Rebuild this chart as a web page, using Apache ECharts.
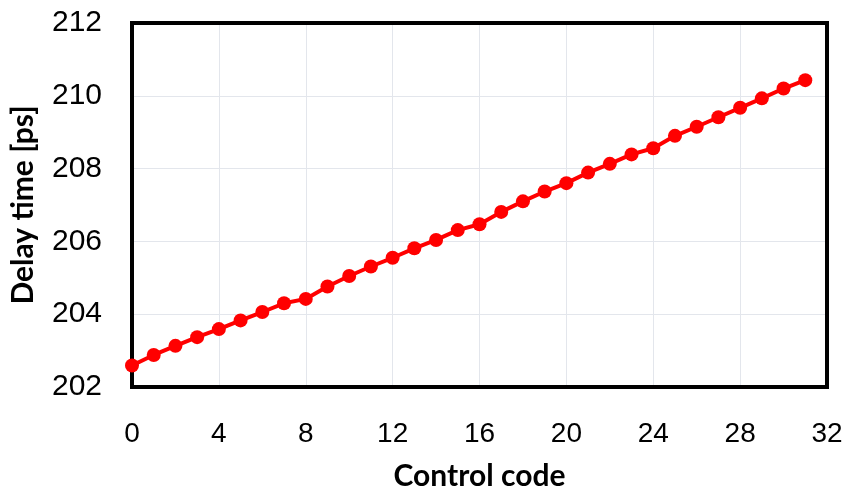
<!DOCTYPE html>
<html>
<head>
<meta charset="utf-8">
<script src="https://cdn.jsdelivr.net/npm/echarts@6/dist/echarts.min.js"></script>
<style>html,body{margin:0;padding:0;background:#fff;}#c{width:846px;height:492px;}</style>
</head>
<body>
<div id="c"></div>
<script>
const controlCodes = [0,1,2,3,4,5,6,7,8,9,10,11,12,13,14,15,16,17,18,19,20,21,22,23,24,25,26,27,28,29,30,31];
const delayPs = [202.59,202.88,203.13,203.37,203.59,203.83,204.06,204.30,204.42,204.76,205.05,205.31,205.55,205.81,206.04,206.31,206.47,206.81,207.10,207.37,207.60,207.89,208.13,208.39,208.56,208.90,209.15,209.41,209.67,209.93,210.20,210.43];
const xTicks = {min:0, max:32, interval:4};
const yTicks = {min:202, max:212, interval:2};

const edgeLine = {show:true,onZero:false,lineStyle:{color:'#000',width:4,cap:'square'}};
const chart = echarts.init(document.getElementById('c'));
chart.setOption({
  animation:false,
  grid:{left:132,right:19,top:23,bottom:105,containLabel:false,outerBoundsMode:'none'},
  xAxis:[{type:'value',min:xTicks.min,max:xTicks.max,interval:xTicks.interval,position:'bottom',
    name:'Control code',nameLocation:'middle',nameGap:74,
    nameTextStyle:{fontFamily:'Lato',fontWeight:'bold',fontSize:30,color:'#000'},
    axisLine:edgeLine,axisTick:{show:false},
    axisLabel:{margin:33,fontFamily:'Liberation Sans',fontSize:28,color:'#000'},
    splitLine:{show:true,lineStyle:{color:'#e3e6ec',width:1}}},
    {type:'value',min:xTicks.min,max:xTicks.max,interval:xTicks.interval,position:'top',
    axisLine:edgeLine,axisTick:{show:false},axisLabel:{show:false},splitLine:{show:false}}],
  yAxis:[{type:'value',min:yTicks.min,max:yTicks.max,interval:yTicks.interval,position:'left',
    name:'Delay time [ps]',nameLocation:'middle',nameGap:94,
    nameTextStyle:{fontFamily:'Lato',fontWeight:'bold',fontSize:30,color:'#000'},
    axisLine:edgeLine,axisTick:{show:false},
    axisLabel:{margin:30,fontFamily:'Liberation Sans',fontSize:30,color:'#000'},
    splitLine:{show:true,lineStyle:{color:'#e3e6ec',width:1}}},
    {type:'value',min:yTicks.min,max:yTicks.max,interval:yTicks.interval,position:'right',
    axisLine:edgeLine,axisTick:{show:false},axisLabel:{show:false},splitLine:{show:false}}],
  series:[{type:'line',data:controlCodes.map((c,i)=>[c,delayPs[i]]),
    lineStyle:{color:'#ff0000',width:4},itemStyle:{color:'#ff0000'},
    symbol:'circle',symbolSize:14,clip:false,z:5}]
});
</script>
</body>
</html>
